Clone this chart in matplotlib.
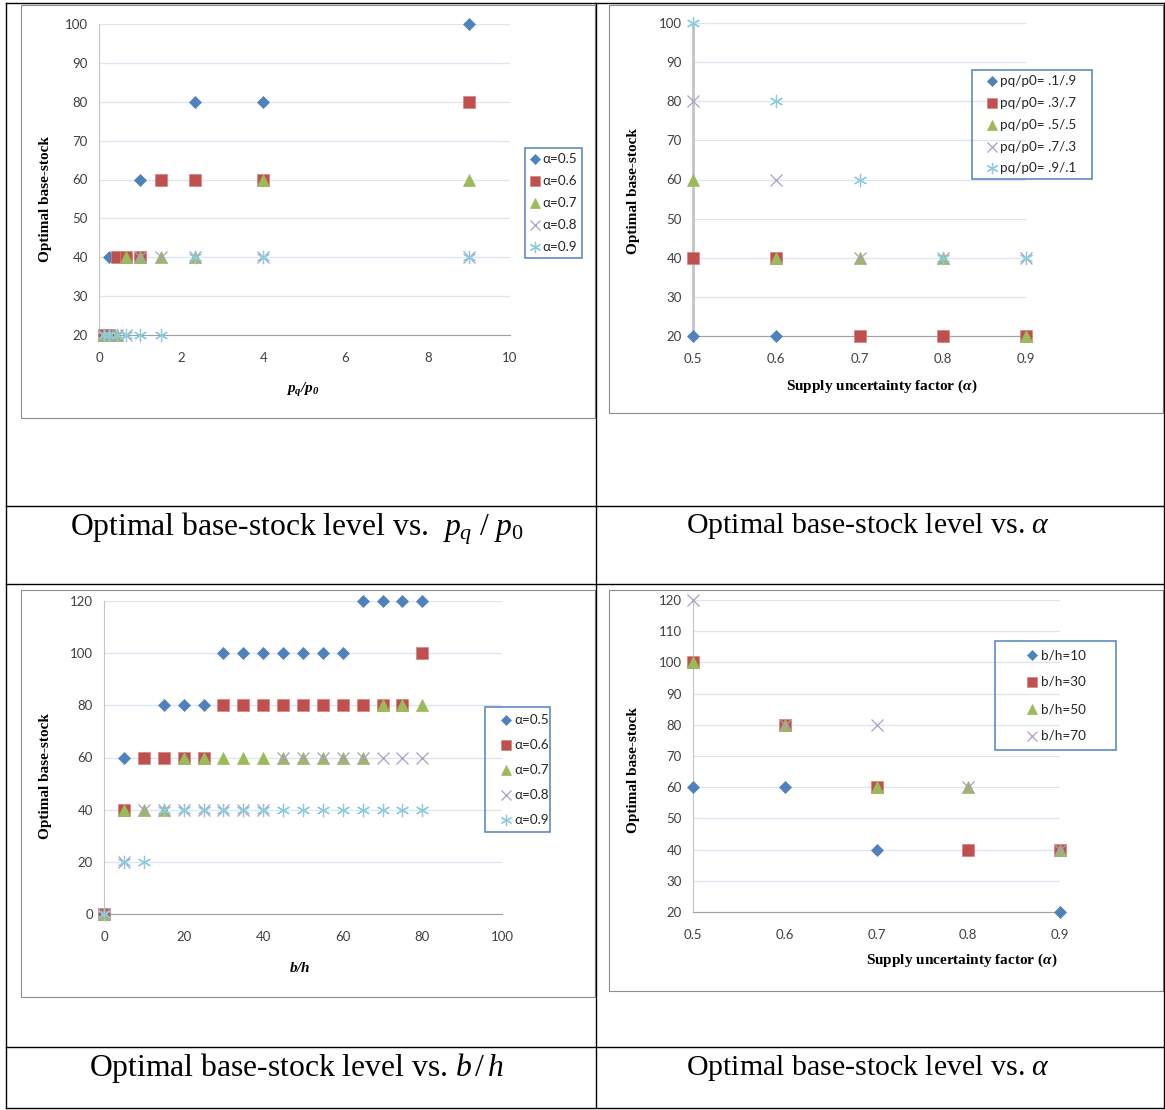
import matplotlib.pyplot as plt
from matplotlib.lines import Line2D
from matplotlib.patches import Rectangle

W, H = 1165, 1110

# panel 1: base-stock vs pq/p0 for each alpha
pq_ratio = [0.111, 0.25, 0.429, 0.667, 1.0, 1.5, 2.333, 4.0, 9.0]
p1_a05 = [20, 40, 40, 40, 60, 60, 80, 80, 100]
p1_a06 = [20, 20, 40, 40, 40, 60, 60, 60, 80]
p1_a07 = [20, 20, 20, 40, 40, 40, 40, 60, 60]
p1_a08 = [20, 20, 20, 20, 40, 40, 40, 40, 40]
p1_a09 = [20, 20, 20, 20, 20, 20, 40, 40, 40]
p1_labels = ['α=0.5', 'α=0.6', 'α=0.7', 'α=0.8', 'α=0.9']

# panel 2: base-stock vs alpha for each pq/p0
alpha = [0.5, 0.6, 0.7, 0.8, 0.9]
p2_01 = [20, 20, 20, 20, 20]
p2_03 = [40, 40, 20, 20, 20]
p2_05 = [60, 40, 40, 40, 20]
p2_07 = [80, 60, 40, 40, 40]
p2_09 = [100, 80, 60, 40, 40]
p2_labels = ['pq/p0= .1/.9', 'pq/p0= .3/.7', 'pq/p0= .5/.5', 'pq/p0= .7/.3', 'pq/p0= .9/.1']

# panel 3: base-stock vs b/h for each alpha
bh = [0, 5, 10, 15, 20, 25, 30, 35, 40, 45, 50, 55, 60, 65, 70, 75, 80]
p3_a05 = [0, 60, 60, 80, 80, 80, 100, 100, 100, 100, 100, 100, 100, 120, 120, 120, 120]
p3_a06 = [0, 40, 60, 60, 60, 60, 80, 80, 80, 80, 80, 80, 80, 80, 80, 80, 100]
p3_a07 = [0, 40, 40, 40, 60, 60, 60, 60, 60, 60, 60, 60, 60, 60, 80, 80, 80]
p3_a08 = [0, 20, 40, 40, 40, 40, 40, 40, 40, 60, 60, 60, 60, 60, 60, 60, 60]
p3_a09 = [0, 20, 20, 40, 40, 40, 40, 40, 40, 40, 40, 40, 40, 40, 40, 40, 40]

# panel 4: base-stock vs alpha for each b/h
p4_10 = [60, 60, 40, 40, 20]
p4_30 = [100, 80, 60, 40, 40]
p4_50 = [100, 80, 60, 60, 40]
p4_70 = [120, 80, 80, 60, 40]
p4_labels = ['b/h=10', 'b/h=30', 'b/h=50', 'b/h=70']

plt.rcParams['font.family'] = ['Lato', 'DejaVu Sans']
plt.rcParams['mathtext.fontset'] = 'custom'
plt.rcParams['mathtext.rm'] = 'Liberation Serif'
plt.rcParams['mathtext.it'] = 'Liberation Serif:italic'
plt.rcParams['mathtext.bf'] = 'Liberation Serif:bold'
plt.rcParams['mathtext.bfit'] = 'Liberation Serif:italic:bold'

styles = [
    dict(marker='D', markersize=6.0, color='#4F81BD', markeredgecolor='#4F81BD', markeredgewidth=0.5),
    dict(marker='s', markersize=8.6, color='#C0504D', markeredgecolor='#D48583', markeredgewidth=0.5),
    dict(marker='^', markersize=8.8, color='#9BBB59', markeredgecolor='#9BBB59', markeredgewidth=0.5),
    dict(marker='x', markersize=8.6, color='#AD9CC6', markeredgewidth=0.9),
    dict(marker=(6, 2, 0), markersize=9.6, color='#8DCBDC', markeredgewidth=0.9),
]


def fx(px):
    return px / W


def fy(py):
    return 1 - py / H


fig = plt.figure(figsize=(W / 100, H / 100), dpi=100)


def make_axes(l, t, r, b, xlim, xticks, ylim, yticks):
    ax = fig.add_axes([fx(l), fy(b), (r - l) / W, (b - t) / H])
    ax.patch.set_alpha(0)
    ax.set_xlim(xlim)
    ax.set_ylim(ylim)
    ax.set_xticks(xticks)
    ax.set_yticks(yticks)
    ax.grid(axis='y', color='#DCE6F2', lw=1)
    ax.set_axisbelow(True)
    ax.spines['top'].set_visible(False)
    ax.spines['right'].set_visible(False)
    ax.spines['left'].set_color('#C4C4C4')
    ax.spines['bottom'].set_color('#A0A0A0')
    ax.tick_params(axis='both', length=0, labelsize=9.5, labelcolor='#404040')
    ax.tick_params(axis='x', pad=12.5)
    ax.tick_params(axis='y', pad=8)
    return ax


def plot_series(ax, x, series):
    for y, st in zip(series, styles):
        ax.plot(x, y, ls='none', clip_on=False, zorder=3, **st)


def draw_legend(l, t, r, b, mx, tx, rows, labels):
    fig.add_artist(Rectangle((fx(l), fy(b)), (r - l) / W, (b - t) / H, transform=fig.transFigure,
                             fill=False, ec='#4F81BD', lw=1.1))
    for y, lab, st in zip(rows, labels, styles):
        st2 = dict(st)
        st2['markersize'] = st['markersize'] * 0.85
        fig.add_artist(Line2D([fx(mx)], [fy(y)], transform=fig.transFigure, ls='none', **st2))
        fig.text(fx(tx), fy(y), lab, ha='left', va='center', fontsize=9.7, color='#262626')


def frame(l, t, r, b):
    fig.add_artist(Rectangle((fx(l), fy(b)), (r - l) / W, (b - t) / H, transform=fig.transFigure,
                             fill=False, ec='#8C8C8C', lw=0.8))


def hline(y, x0, x1):
    fig.add_artist(Line2D([fx(x0), fx(x1)], [fy(y), fy(y)], transform=fig.transFigure, color='black', lw=1))


def vline(x, y0, y1):
    fig.add_artist(Line2D([fx(x), fx(x)], [fy(y0), fy(y1)], transform=fig.transFigure, color='black', lw=1))


serif = 'Liberation Serif'

# chart frames
frame(21, 5, 595, 418)
frame(609, 5, 1163, 413)
frame(21, 590, 595, 997)
frame(609, 590, 1163, 991)

# panel 1
ax1 = make_axes(99, 24, 510, 335, (0, 10), range(0, 11, 2), (20, 100), range(20, 101, 10))
plot_series(ax1, pq_ratio, [p1_a05, p1_a06, p1_a07, p1_a08, p1_a09])
draw_legend(525, 148, 582, 258, 535, 542, [159, 181, 203, 225, 247], p1_labels)
fig.text(fx(45), fy(199), 'Optimal base-stock', rotation=90, ha='center', va='center',
         family=serif, weight='bold', fontsize=11)
fig.text(fx(303), fy(390), r'$\mathbfit{p_q/p_0}$', ha='center', va='center', fontsize=11)

# panel 2
ax2 = make_axes(693, 23, 1026, 336, (0.5, 0.9), [0.5, 0.6, 0.7, 0.8, 0.9], (20, 100), range(20, 101, 10))
ax2.spines['left'].set_linewidth(2)
plot_series(ax2, alpha, [p2_01, p2_03, p2_05, p2_07, p2_09])
draw_legend(972, 70, 1092, 179, 992, 1000, [81, 103, 125, 147, 168], p2_labels)
fig.text(fx(633), fy(191), 'Optimal base-stock', rotation=90, ha='center', va='center',
         family=serif, weight='bold', fontsize=11)
fig.text(fx(882), fy(386), r'Supply uncertainty factor ($\mathbfit{\alpha}$)', ha='center', va='center',
         family=serif, weight='bold', fontsize=11)

# panel 3
ax3 = make_axes(104, 601, 502, 914, (0, 100), range(0, 101, 20), (0, 120), range(0, 121, 20))
plot_series(ax3, bh, [p3_a05, p3_a06, p3_a07, p3_a08, p3_a09])
draw_legend(485, 707, 550, 832, 506, 514, [720, 745, 770, 795, 820], p1_labels)
fig.text(fx(46), fy(776), 'Optimal base-stock', rotation=90, ha='center', va='center',
         family=serif, weight='bold', fontsize=11)
fig.text(fx(300), fy(968), r'$\mathbfit{b/h}$', ha='center', va='center', fontsize=11)

# panel 4
ax4 = make_axes(693, 600, 1060, 912, (0.5, 0.9), [0.5, 0.6, 0.7, 0.8, 0.9], (20, 120), range(20, 121, 10))
plot_series(ax4, alpha, [p4_10, p4_30, p4_50, p4_70])
draw_legend(995, 641, 1116, 750, 1032, 1041, [655, 682, 709, 736], p4_labels)
fig.text(fx(633), fy(770), 'Optimal base-stock', rotation=90, ha='center', va='center',
         family=serif, weight='bold', fontsize=11)
fig.text(fx(962), fy(960), r'Supply uncertainty factor ($\mathbfit{\alpha}$)', ha='center', va='center',
         family=serif, weight='bold', fontsize=11)

# table lines
hline(3, 6, 1164)
hline(506, 6, 1164)
hline(584, 6, 1164)
hline(1047, 6, 1164)
hline(1108, 6, 1164)
vline(6, 3, 1108)
vline(596, 3, 1108)
vline(1164, 3, 1108)

# captions
fig.text(fx(297), fy(529), r'Optimal base-stock level vs.  $p_q\ /\ p_0$', ha='center', va='center',
         family=serif, fontsize=22.8)
fig.text(fx(868), fy(526), r'Optimal base-stock level vs. $\alpha$', ha='center', va='center',
         family=serif, fontsize=21.5)
fig.text(fx(296), fy(1068), r'Optimal base-stock level vs. $b\,/\,h$', ha='center', va='center',
         family=serif, fontsize=22.8)
fig.text(fx(868), fy(1068), r'Optimal base-stock level vs. $\alpha$', ha='center', va='center',
         family=serif, fontsize=21.5)

fig.savefig('out.png', dpi=100)
